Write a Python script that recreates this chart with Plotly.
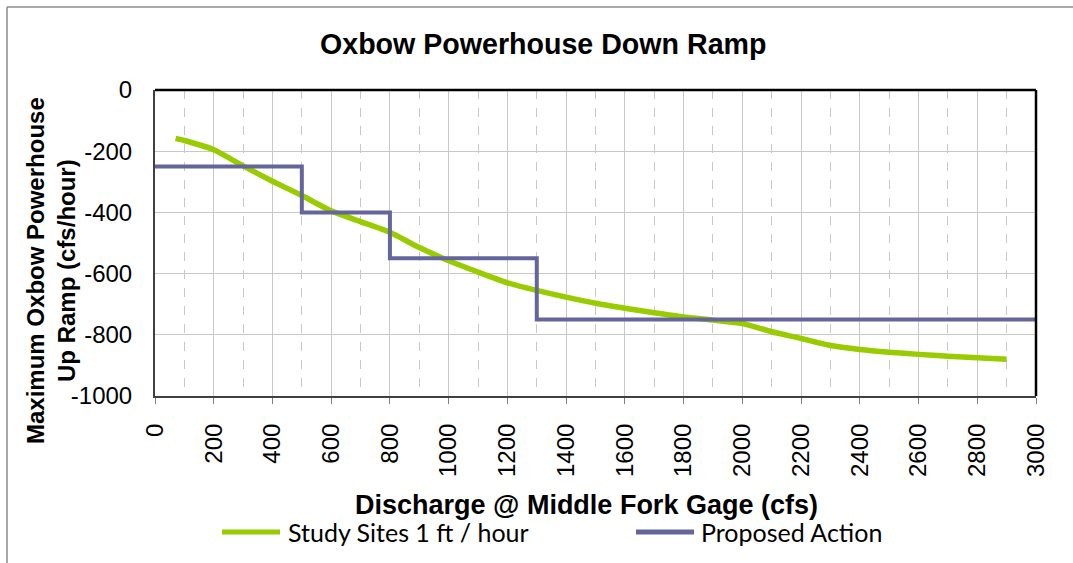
import plotly.graph_objects as go

# Study-site ramp curve (discharge cfs, ramp cfs/hour)
study_x = [70, 100, 200, 300, 400, 500, 600, 700, 800, 900, 1000, 1100, 1200,
           1300, 1400, 1500, 1600, 1700, 1800, 1900, 2000, 2100, 2200, 2300,
           2400, 2500, 2600, 2700, 2800, 2900]
study_y = [-158, -165, -195, -248, -298, -345, -395, -430, -465, -515, -558,
           -595, -630, -655, -677, -697, -713, -728, -742, -752, -763, -790,
           -812, -835, -848, -857, -864, -870, -875, -880]

# Proposed action step function
proposed_x = [0, 500, 500, 800, 800, 1300, 1300, 3000]
proposed_y = [-250, -250, -400, -400, -550, -550, -750, -750]

series_names = ["Study Sites 1 ft / hour", "Proposed Action"]
series_colors = ["#99cc00", "#65659e"]

x_ticks = list(range(0, 3001, 200))
y_ticks = list(range(-1000, 1, 200))

L, R, T, B = 155, 1036, 90, 396
W, H = 1073, 563


def px(p):
    return (p - L) / (R - L)


def py(q):
    return (B - q) / (B - T)


fig = go.Figure()
fig.add_trace(go.Scatter(
    x=study_x, y=study_y, mode="lines", name=series_names[0], showlegend=False,
    line=dict(color=series_colors[0], width=5.5, shape="spline", smoothing=0.6),
))
fig.add_trace(go.Scatter(
    x=proposed_x, y=proposed_y, mode="lines", name=series_names[1], showlegend=False,
    line=dict(color=series_colors[1], width=4),
))

axis_font = dict(family="Arial, Liberation Sans, sans-serif", size=24, color="#000000")

fig.update_xaxes(
    range=[0, 3000], tickvals=x_ticks, ticktext=[str(v) for v in x_ticks],
    tickangle=-90, tickfont=axis_font, ticks="outside", ticklen=6,
    tickcolor="#7f7f7f", ticklabelstandoff=10, automargin=False,
    showgrid=True, gridcolor="#c8c8c8", gridwidth=1,
    minor=dict(dtick=100, tick0=0, showgrid=True, gridcolor="#c8c8c8",
               griddash="dash", gridwidth=1),
    showline=True, linecolor="#404040", linewidth=2, zeroline=False,
)
fig.update_yaxes(
    range=[-1000, 0], tickvals=y_ticks, ticktext=[str(v) for v in y_ticks],
    tickfont=axis_font, ticks="", ticklabelstandoff=16, automargin=False,
    showgrid=True, gridcolor="#c8c8c8", gridwidth=1,
    showline=True, linecolor="#404040", linewidth=2, zeroline=False,
)

shapes = [
    # top and right frame of the plot area
    dict(type="line", xref="paper", yref="paper", x0=0, x1=1, y0=1, y1=1,
         line=dict(color="#000000", width=2.5)),
    dict(type="line", xref="paper", yref="paper", x0=1, x1=1, y0=0, y1=1,
         line=dict(color="#000000", width=2.5)),
    # outer chart border
    dict(type="line", xref="paper", yref="paper", x0=px(7), x1=px(W + 5),
         y0=py(7), y1=py(7), line=dict(color="#8c8c8c", width=1.5)),
    dict(type="line", xref="paper", yref="paper", x0=px(7), x1=px(7),
         y0=py(7), y1=py(H + 5), line=dict(color="#8c8c8c", width=1.5)),
]

bold = "Arial, Liberation Sans, sans-serif"
annotations = [
    dict(text="<b>Oxbow Powerhouse Down Ramp</b>", xref="paper", yref="paper",
         x=px(543), y=py(44), showarrow=False, xanchor="center", yanchor="middle",
         font=dict(family=bold, size=28.6, color="#000000")),
    dict(text="<b>Discharge @ Middle Fork Gage (cfs)</b>", xref="paper", yref="paper",
         x=px(586), y=py(505), showarrow=False, xanchor="center", yanchor="middle",
         font=dict(family=bold, size=27, color="#000000")),
    dict(text="<b>Maximum Oxbow Powerhouse<br>Up Ramp (cfs/hour)</b>", xref="paper",
         yref="paper", x=px(51), y=py(271), showarrow=False, textangle=-90,
         xanchor="center", yanchor="middle",
         font=dict(family=bold, size=24, color="#000000")),
]

# Legend row below the axis title: sample line + label for each series
legend_line_x = [(222, 280), (636, 694)]
legend_text_x = [286, 699]
legend_y = 532
for name, color, (x0, x1), tx in zip(series_names, series_colors,
                                     legend_line_x, legend_text_x):
    shapes.append(dict(type="line", xref="paper", yref="paper",
                       x0=px(x0), x1=px(x1), y0=py(legend_y), y1=py(legend_y),
                       line=dict(color=color, width=5)))
    annotations.append(dict(text=name, xref="paper", yref="paper", x=px(tx),
                            y=py(legend_y), showarrow=False, xanchor="left",
                            yanchor="middle",
                            font=dict(family="Lato, Open Sans, sans-serif",
                                      size=25, color="#000000")))

fig.update_layout(
    width=W, height=H,
    margin=dict(l=L, r=W - R, t=T, b=H - B),
    paper_bgcolor="#ffffff", plot_bgcolor="#ffffff",
    showlegend=False,
    shapes=shapes, annotations=annotations,
)

fig.write_html("out.html")
